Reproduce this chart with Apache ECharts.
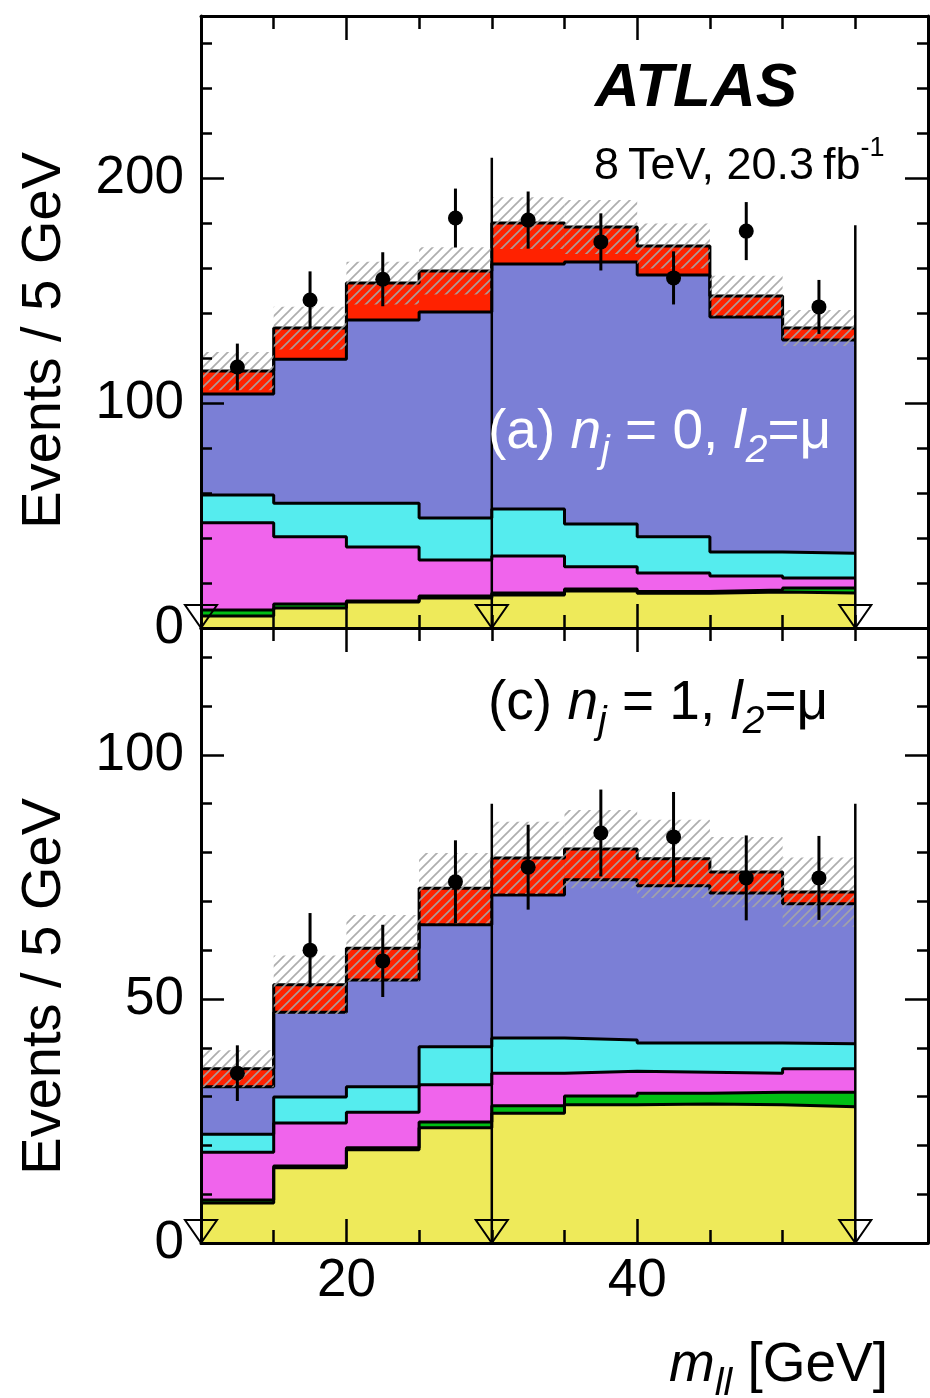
<!DOCTYPE html>
<html>
<head>
<meta charset="utf-8">
<script src="https://cdn.jsdelivr.net/npm/echarts@6/dist/echarts.min.js"></script>
<style>
  html, body { margin: 0; padding: 0; background: #fff; }
  #chart { width: 930px; height: 1398px; }
</style>
</head>
<body>
<div id="chart"></div>
<script>
// m_ll bin edges [GeV]
const binEdges = [10, 15, 20, 25, 30, 35, 40, 45, 50, 55];
const xRange = [10, 60];
const xMajorTicks = [20, 40];
const xMinorTicks = [15, 25, 30, 35, 45, 50, 55];
// selection cut positions (arrows) [GeV]
const cutPositions = [10, 30, 55];

// ---- panel (a): n_j = 0, l2 = mu ----
// stacked expected yields, bottom to top (events / 5 GeV)
const a_yellow  = [5.3, 8.9, 11.6, 13.3, 14.7, 16.4, 15.4, 16.0, 15.6];
const a_green   = [2.7, 1.8, 0.4, 0.9, 0.9, 0.9, 0.8, 0.9, 2.2];
const a_magenta = [38.8, 29.9, 24.0, 16.0, 16.4, 9.9, 8.2, 6.2, 4.4];
const a_cyan    = [12.3, 14.9, 19.5, 18.7, 20.9, 19.0, 16.2, 10.7, 11.0];
const a_blue    = [44.9, 64.0, 81.4, 91.6, 108.9, 116.5, 116.3, 104.4, 94.8];
const a_red     = [10.2, 13.8, 16.4, 18.2, 18.2, 15.5, 12.9, 9.4, 5.3];
const a_syst    = [8.5, 9.5, 9.5, 10.5, 11.5, 12.0, 10.0, 9.0, 8.0];
const a_data    = [116, 145.8, 155, 182.2, 181.3, 171.6, 155.6, 176.4, 142.7];
const a_dataErr = [10.4, 12.7, 12.0, 13.1, 12.7, 12.7, 11.8, 12.9, 12.0];
const a_cutTop  = [0, 209, 179];
const a_yMax = 272;
const a_yMajor = [0, 100, 200];
const a_yMinor = [20, 40, 60, 80, 120, 140, 160, 180, 220, 240, 260];

// ---- panel (c): n_j = 1, l2 = mu ----
const c_yellow  = [8.2, 15.4, 19.1, 23.6, 26.6, 28.3, 28.5, 28.3, 27.9];
const c_green   = [0.6, 0.4, 0.4, 1.2, 1.5, 1.8, 2.2, 2.6, 3.0];
const c_magenta = [9.8, 8.8, 7.3, 7.6, 6.7, 5.1, 4.3, 3.9, 4.8];
const c_cyan    = [3.7, 5.3, 5.2, 7.8, 7.2, 6.4, 6.0, 6.2, 5.1];
const c_blue    = [9.7, 17.4, 21.9, 25.0, 29.3, 32.8, 32.2, 30.7, 28.7];
const c_red     = [3.7, 5.6, 6.5, 7.5, 7.6, 6.3, 5.5, 4.3, 2.4];
const c_syst    = [3.8, 6.0, 6.8, 7.2, 7.4, 8.0, 8.0, 7.2, 7.1];
const c_data    = [34.8, 60, 57.8, 74, 77, 84, 83.2, 74.8, 74.8];
const c_dataErr = [5.7, 7.6, 7.4, 8.5, 8.7, 8.9, 9.2, 8.7, 8.6];
const c_cutTop  = [0, 90, 90];
const c_yMax = 126;
const c_yMajor = [0, 50, 100];
const c_yMinor = [10, 20, 30, 40, 60, 70, 80, 90, 110, 120];

// ---- styling ----
const FONT = '"Liberation Sans", Arial, Helvetica, sans-serif';
const layerColors = ['#eeea5a', '#00be14', '#f064ec', '#55ecee', '#7b7fd6', '#ff2200'];

const panels = [
  { grid: { left: 201, top: 16, width: 727, height: 612 },
    layers: [a_yellow, a_green, a_magenta, a_cyan, a_blue, a_red],
    syst: a_syst, data: a_data, dataErr: a_dataErr, cutTop: a_cutTop,
    yMax: a_yMax, yMajor: a_yMajor, yMinor: a_yMinor, xLabels: false },
  { grid: { left: 201, top: 628, width: 727, height: 615 },
    layers: [c_yellow, c_green, c_magenta, c_cyan, c_blue, c_red],
    syst: c_syst, data: c_data, dataErr: c_dataErr, cutTop: c_cutTop,
    yMax: c_yMax, yMajor: c_yMajor, yMinor: c_yMinor, xLabels: true }
];

// diagonal hatch used for the systematic uncertainty band
const hatch = document.createElement('canvas');
hatch.width = 10; hatch.height = 10;
const hc = hatch.getContext('2d');
hc.strokeStyle = 'rgba(165,165,165,0.9)';
hc.lineWidth = 1.7;
[[-1, 11, 11, -1], [-1, 1, 1, -1], [9, 11, 11, 9]].forEach(([x1, y1, x2, y2]) => {
  hc.beginPath(); hc.moveTo(x1, y1); hc.lineTo(x2, y2); hc.stroke();
});
const hatchFill = { image: hatch, repeat: 'repeat' };

function cumulative(layers) {
  const out = [];
  let run = layers[0].map(() => 0);
  layers.forEach(l => { run = run.map((v, i) => v + l[i]); out.push(run); });
  return out;
}

const tickLine = { color: '#000', width: 2.5 };
const frameLine = { show: true, onZero: false, lineStyle: { color: '#000', width: 3 } };
const noLine = { show: false, onZero: false };
const labelStyle = { color: '#000', fontSize: 53, fontFamily: FONT };

const xAxes = [], yAxes = [], grids = [], series = [];

panels.forEach((p, g) => {
  grids.push(Object.assign({ containLabel: false }, p.grid));

  const xBase = { type: 'value', gridIndex: g, min: xRange[0], max: xRange[1], z: 10, splitLine: { show: false } };
  const xAxis = (pos, ticks, len, line, labels) => Object.assign({}, xBase, {
    position: pos,
    axisLine: line ? frameLine : noLine,
    axisTick: { show: true, inside: true, length: len, customValues: ticks, lineStyle: tickLine },
    axisLabel: labels
      ? Object.assign({ show: true, margin: 12, customValues: xMajorTicks }, labelStyle)
      : { show: false }
  });
  xAxes.push(xAxis('bottom', xMajorTicks, 24, true, p.xLabels));
  xAxes.push(xAxis('bottom', xMinorTicks, 13, false, false));
  xAxes.push(xAxis('top', xMajorTicks, 24, true, false));
  xAxes.push(xAxis('top', xMinorTicks, 13, false, false));

  const yBase = { type: 'value', gridIndex: g, min: 0, max: p.yMax, z: 10, splitLine: { show: false } };
  const yAxis = (pos, ticks, len, line, labels) => Object.assign({}, yBase, {
    position: pos,
    axisLine: line ? frameLine : noLine,
    axisTick: { show: true, inside: true, length: len, customValues: ticks, lineStyle: tickLine },
    axisLabel: labels
      ? Object.assign({ show: true, margin: 17, customValues: p.yMajor }, labelStyle)
      : { show: false }
  });
  yAxes.push(yAxis('left', p.yMajor, 23, true, true));
  yAxes.push(yAxis('left', p.yMinor, 11, false, false));
  yAxes.push(yAxis('right', p.yMajor, 23, true, false));
  yAxes.push(yAxis('right', p.yMinor, 11, false, false));

  const ax = { xAxisIndex: 4 * g, yAxisIndex: 4 * g };
  const cum = cumulative(p.layers);
  const nb = binEdges.length - 1;

  // stacked histograms, drawn from the total down so each layer covers the next
  for (let k = cum.length - 1; k >= 0; k--) {
    const tops = cum[k];
    series.push(Object.assign({
      type: 'line', step: 'end', symbol: 'none', silent: true, animation: false, z: 2,
      data: binEdges.map((e, i) => [e, tops[Math.min(i, nb - 1)]]),
      lineStyle: { color: '#000', width: 3 },
      areaStyle: { color: layerColors[k], opacity: 1 }
    }, ax));
  }

  // systematic uncertainty band around the total
  const total = cum[cum.length - 1];
  series.push(Object.assign({
    type: 'custom', silent: true, animation: false, z: 3,
    data: total.map((t, i) => [binEdges[i], binEdges[i + 1], t - p.syst[i], t + p.syst[i]]),
    renderItem: (params, api) => {
      const a = api.coord([api.value(0), api.value(3)]);
      const b = api.coord([api.value(1), api.value(2)]);
      return { type: 'rect', shape: { x: a[0], y: a[1], width: b[0] - a[0], height: b[1] - a[1] },
               style: { fill: hatchFill } };
    }
  }, ax));

  // cut arrows: vertical line plus open triangle on the axis
  series.push(Object.assign({
    type: 'custom', silent: true, animation: false, z: 4, clip: false,
    data: cutPositions.map((x, i) => [x, p.cutTop[i]]),
    renderItem: (params, api) => {
      const base = api.coord([api.value(0), 0]);
      const top = api.coord([api.value(0), api.value(1)]);
      return { type: 'group', children: [
        { type: 'line', shape: { x1: base[0], y1: base[1], x2: top[0], y2: top[1] },
          style: { stroke: '#000', lineWidth: 2.5 } },
        { type: 'polygon',
          shape: { points: [[base[0] - 16, base[1] - 23], [base[0] + 16, base[1] - 23], [base[0], base[1]]] },
          style: { fill: 'none', stroke: '#000', lineWidth: 2 } }
      ] };
    }
  }, ax));

  const centers = binEdges.slice(0, nb).map((e, i) => (e + binEdges[i + 1]) / 2);

  // data error bars
  series.push(Object.assign({
    type: 'custom', silent: true, animation: false, z: 5,
    data: p.data.map((v, i) => [centers[i], v - p.dataErr[i], v + p.dataErr[i]]),
    renderItem: (params, api) => {
      const lo = api.coord([api.value(0), api.value(1)]);
      const hi = api.coord([api.value(0), api.value(2)]);
      return { type: 'line', shape: { x1: lo[0], y1: lo[1], x2: hi[0], y2: hi[1] },
               style: { stroke: '#000', lineWidth: 3 } };
    }
  }, ax));

  // data points
  series.push(Object.assign({
    type: 'scatter', silent: true, animation: false, z: 6,
    symbol: 'circle', symbolSize: 15,
    itemStyle: { color: '#000', opacity: 1 },
    data: p.data.map((v, i) => [centers[i], v])
  }, ax));
});

const main = { fontFamily: FONT, fontSize: 55, lineHeight: 76, verticalAlign: 'middle' };
function labelRich(color) {
  return {
    n: Object.assign({}, main, { fill: color }),
    i: Object.assign({}, main, { fill: color, fontStyle: 'italic' }),
    s: { fontFamily: FONT, fontSize: 39, fontStyle: 'italic', verticalAlign: 'bottom', fill: color }
  };
}

const option = {
  backgroundColor: '#fff',
  animation: false,
  grid: grids,
  xAxis: xAxes,
  yAxis: yAxes,
  series: series,
  graphic: [
    { type: 'text', x: 595, y: 58, z: 20,
      style: { text: 'ATLAS', fontFamily: FONT, fontSize: 62, fontWeight: 'bold', fontStyle: 'italic',
               fill: '#000', verticalAlign: 'top' } },
    { type: 'text', x: 594, y: 135, z: 20,
      style: { text: '{m|8\u2009TeV, 20.3\u2009fb}{u|-1}', verticalAlign: 'top',
               rich: {
                 m: { fontFamily: FONT, fontSize: 45, lineHeight: 54, verticalAlign: 'bottom', fill: '#000' },
                 u: { fontFamily: FONT, fontSize: 27, verticalAlign: 'top', fill: '#000' }
               } } },
    { type: 'text', x: 488, y: 395, z: 20,
      style: { text: '{n|(a) }{i|n}{s|j}{n| = 0, }{i|l}{s|2}{n|=\u03bc}', verticalAlign: 'top',
               rich: labelRich('#fff') } },
    { type: 'text', x: 488, y: 666, z: 20,
      style: { text: '{n|(c) }{i|n}{s|j}{n| = 1, }{i|l}{s|2}{n|=\u03bc}', verticalAlign: 'top',
               rich: labelRich('#000') } },
    { type: 'text', x: 888, y: 1328, z: 20,
      style: { text: '{i|m}{s|ll}{n| [GeV]}', align: 'right', verticalAlign: 'top',
               rich: labelRich('#000') } },
    { type: 'text', x: 45, y: 152, rotation: Math.PI / 2, z: 20,
      style: { text: 'Events / 5 GeV', fontFamily: FONT, fontSize: 56, fill: '#000',
               align: 'right', verticalAlign: 'middle' } },
    { type: 'text', x: 45, y: 798, rotation: Math.PI / 2, z: 20,
      style: { text: 'Events / 5 GeV', fontFamily: FONT, fontSize: 56, fill: '#000',
               align: 'right', verticalAlign: 'middle' } }
  ]
};

const chart = echarts.init(document.getElementById('chart'), null, { renderer: 'canvas' });
chart.setOption(option);
</script>
</body>
</html>
